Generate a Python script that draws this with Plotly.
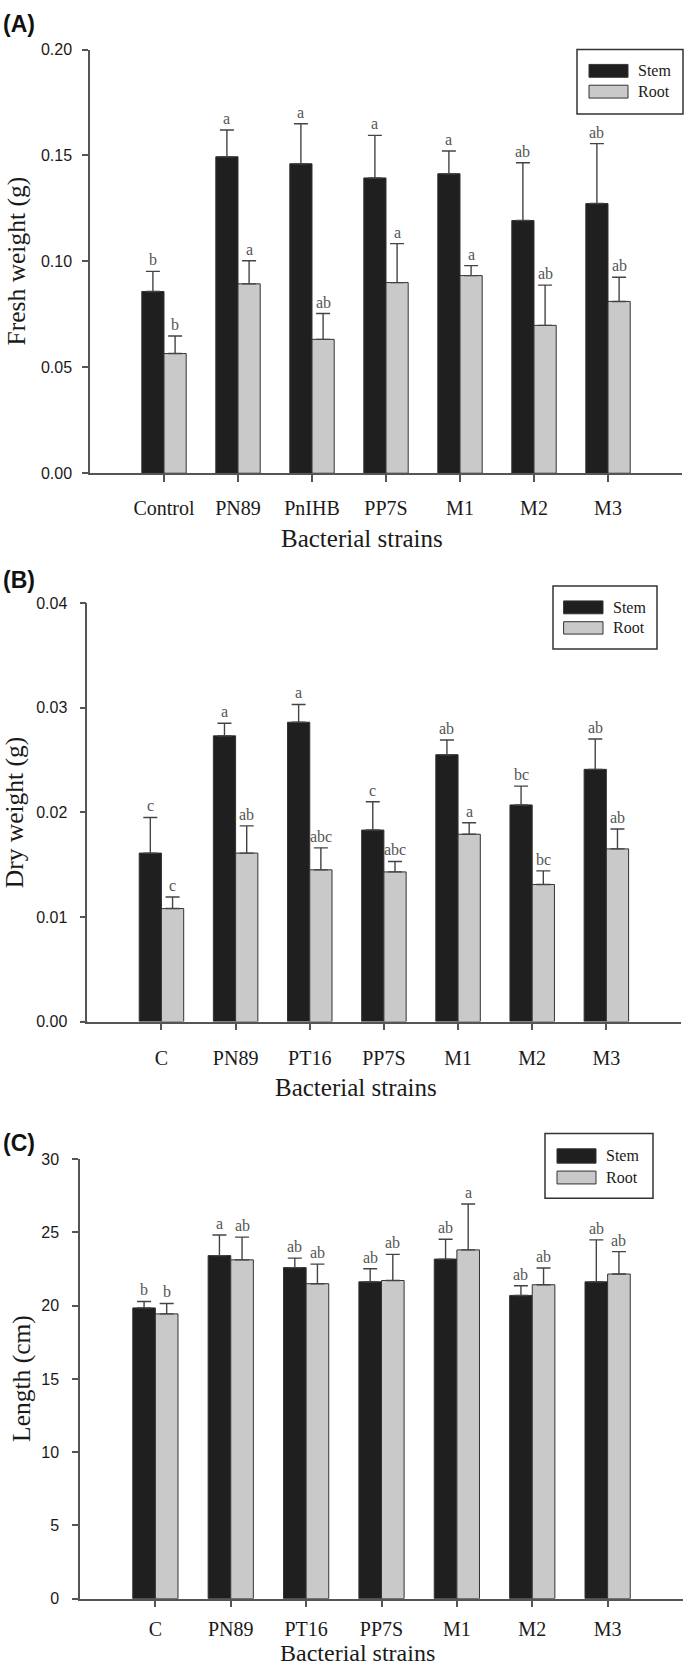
import plotly.graph_objects as go

W, H = 685, 1675

# ---------------- data ----------------
cats_A = ["Control", "PN89", "PnIHB", "PP7S", "M1", "M2", "M3"]
stem_A = [0.0858, 0.1494, 0.1461, 0.1394, 0.1414, 0.1193, 0.1273]
stem_A_err = [0.0095, 0.0126, 0.0189, 0.0201, 0.0107, 0.0273, 0.0283]
root_A = [0.0565, 0.0894, 0.0632, 0.0900, 0.0933, 0.0698, 0.0811]
root_A_err = [0.0083, 0.0109, 0.0122, 0.0184, 0.0047, 0.0190, 0.0114]
stem_A_lbl = ["b", "a", "a", "a", "a", "ab", "ab"]
root_A_lbl = ["b", "a", "ab", "a", "a", "ab", "ab"]
yticks_A = [0.00, 0.05, 0.10, 0.15, 0.20]

cats_B = ["C", "PN89", "PT16", "PP7S", "M1", "M2", "M3"]
stem_B = [0.0161, 0.0273, 0.0286, 0.0183, 0.0255, 0.0207, 0.0241]
stem_B_err = [0.0034, 0.0012, 0.0017, 0.0027, 0.0014, 0.0018, 0.0029]
root_B = [0.0108, 0.0161, 0.0145, 0.0143, 0.0179, 0.0131, 0.0165]
root_B_err = [0.0011, 0.0026, 0.0021, 0.0010, 0.0011, 0.0013, 0.0019]
stem_B_lbl = ["c", "a", "a", "c", "ab", "bc", "ab"]
root_B_lbl = ["c", "ab", "abc", "abc", "a", "bc", "ab"]
yticks_B = [0.00, 0.01, 0.02, 0.03, 0.04]

cats_C = ["C", "PN89", "PT16", "PP7S", "M1", "M2", "M3"]
stem_C = [19.85, 23.42, 22.60, 21.63, 23.18, 20.70, 21.63]
stem_C_err = [0.44, 1.41, 0.65, 0.89, 1.36, 0.66, 2.86]
root_C = [19.44, 23.13, 21.50, 21.72, 23.81, 21.43, 22.16]
root_C_err = [0.71, 1.55, 1.34, 1.78, 3.13, 1.14, 1.53]
stem_C_lbl = ["b", "a", "ab", "ab", "ab", "ab", "ab"]
root_C_lbl = ["b", "ab", "ab", "ab", "a", "ab", "ab"]
yticks_C = [0, 5, 10, 15, 20, 25, 30]

# ---------------- styling ----------------
STEM_FILL = "#1f1f1f"
ROOT_FILL = "#c9c9c9"
OUTLINE = "#333333"
AXIS = "#555555"
SERIF = "Liberation Serif, Times New Roman, serif"
SANS = "Liberation Sans, Arial, sans-serif"


def px(x):
    return x / W


def py(y):
    return 1 - y / H


panels = [
    dict(cats=cats_A, stem=stem_A, se=stem_A_err, root=root_A, re=root_A_err,
         sl=stem_A_lbl, rl=root_A_lbl, ticks=yticks_A, fmt=".2f", yr=[0, 0.20],
         xdom=(90, 682), ydom=(42, 470), ytitle="Fresh weight (g)", ytx=16,
         xtitle_y=536, xtitle_x=362, xanch="middle", xtsize=25, tag="(A)", tag_y=16,
         xstand=9, ystand=7,
         leg=dict(box=(577, 42, 683, 107), sw=(589, 628), s1=(57, 70), s2=(78, 91), tx=636)),
    dict(cats=cats_B, stem=stem_B, se=stem_B_err, root=root_B, re=root_B_err,
         sl=stem_B_lbl, rl=root_B_lbl, ticks=yticks_B, fmt=".2f", yr=[0, 0.04],
         xdom=(87.3, 680.5), ydom=(601, 1024), ytitle="Dry weight (g)", ytx=14,
         xtitle_y=1091, xtitle_x=356, xanch="middle", xtsize=25, tag="(B)", tag_y=578,
         xstand=11, ystand=9,
         leg=dict(box=(553, 584, 657, 647.5), sw=(563.6, 603), s1=(599, 612), s2=(620, 632.5), tx=611)),
    dict(cats=cats_C, stem=stem_C, se=stem_C_err, root=root_C, re=root_C_err,
         sl=stem_C_lbl, rl=root_C_lbl, ticks=yticks_C, fmt="d", yr=[0, 30],
         xdom=(80, 683), ydom=(1163, 1607), ytitle="Length (cm)", ytx=22,
         xtitle_y=1675, xtitle_x=357, xanch="bottom", xtsize=24, tag="(C)", tag_y=1147,
         xstand=5, ystand=10,
         leg=dict(box=(545, 1137, 653, 1202.5), sw=(557, 596), s1=(1152.5, 1167), s2=(1175, 1188), tx=604)),
]

fig = go.Figure()
layout = dict(
    width=W, height=H, margin=dict(l=0, r=0, t=0, b=0),
    paper_bgcolor="white", plot_bgcolor="white",
    barmode="group", bargap=0.4, bargroupgap=0.0,
    showlegend=False,
)
annotations = []
shapes = []

for k, p in enumerate(panels):
    sfx = "" if k == 0 else str(k + 1)
    xa, ya = "x" + sfx, "y" + sfx
    err_style = dict(type="data", symmetric=False, color="#444444", thickness=1.4, width=7)
    fig.add_trace(go.Bar(
        x=p["cats"], y=p["stem"], name="Stem", xaxis=xa, yaxis=ya,
        marker=dict(color=STEM_FILL, line=dict(color=OUTLINE, width=1)),
        error_y=dict(array=p["se"], **err_style),
    ))
    fig.add_trace(go.Bar(
        x=p["cats"], y=p["root"], name="Root", xaxis=xa, yaxis=ya,
        marker=dict(color=ROOT_FILL, line=dict(color=OUTLINE, width=1)),
        error_y=dict(array=p["re"], **err_style),
    ))
    x0, x1 = p["xdom"]
    y0, y1 = p["ydom"]
    layout["xaxis" + sfx] = dict(
        domain=[px(x0), px(x1)], anchor=ya, type="category",
        range=[-1, 7], showline=True, linecolor=AXIS, linewidth=1.5,
        ticks="outside", ticklen=7, tickcolor=AXIS, tickwidth=1.5,
        showgrid=False, zeroline=False, fixedrange=True,
        tickfont=dict(family=SERIF, size=20, color="#1a1a1a"),
        ticklabelstandoff=p["xstand"],
    )
    tickvals = p["ticks"]
    ticktext = [format(t, p["fmt"]) if p["fmt"] != "d" else str(int(t)) for t in tickvals]
    layout["yaxis" + sfx] = dict(
        domain=[py(y1), py(y0)], anchor=xa, range=p["yr"],
        showline=True, linecolor=AXIS, linewidth=1.5,
        ticks="outside", ticklen=6, tickcolor=AXIS, tickwidth=1.5,
        tickvals=tickvals, ticktext=ticktext,
        showgrid=False, zeroline=False, fixedrange=True,
        tickfont=dict(family=SANS, size=16, color="#1a1a1a"),
        ticklabelstandoff=p["ystand"],
    )
    # small extension of the x axis line to the left of the y axis (as in the original)
    shapes.append(dict(type="line", xref="paper", yref="paper",
                       x0=px(x0 - 6), x1=px(x0), y0=py(y1), y1=py(y1),
                       line=dict(color=AXIS, width=1.5)))
    # significance letters
    for i in range(len(p["cats"])):
        for off, val, err, lbl in ((-0.15, p["stem"][i], p["se"][i], p["sl"][i]),
                                   (0.15, p["root"][i], p["re"][i], p["rl"][i])):
            annotations.append(dict(
                x=i + off, y=val + err, xref=xa, yref=ya, text=lbl,
                showarrow=False, yanchor="bottom", xanchor="center", yshift=1,
                font=dict(family=SERIF, size=16, color="#555555"),
            ))
    # axis titles
    annotations.append(dict(
        x=px(p["ytx"]), y=py((y0 + y1) / 2), xref="paper", yref="paper",
        text=p["ytitle"], textangle=-90, showarrow=False,
        xanchor="center", yanchor="middle",
        font=dict(family=SERIF, size=25.5, color="#1a1a1a"),
    ))
    annotations.append(dict(
        x=px(p["xtitle_x"]), y=py(p["xtitle_y"]), xref="paper", yref="paper",
        text="Bacterial strains", showarrow=False,
        xanchor="center", yanchor=p["xanch"], borderpad=0, borderwidth=0,
        font=dict(family=SERIF, size=p["xtsize"], color="#1a1a1a"),
    ))
    annotations.append(dict(
        x=px(19), y=py(p["tag_y"]), xref="paper", yref="paper",
        text="<b>" + p["tag"] + "</b>", showarrow=False,
        xanchor="center", yanchor="middle",
        font=dict(family=SANS, size=23, color="#111111"),
    ))
    # legend drawn as a framed key
    lg = p["leg"]
    bx0, by0, bx1, by1 = lg["box"]
    shapes.append(dict(type="rect", xref="paper", yref="paper",
                       x0=px(bx0), x1=px(bx1), y0=py(by1), y1=py(by0),
                       line=dict(color="#333333", width=1.5), fillcolor="white"))
    for (sy0, sy1), fill, name in ((lg["s1"], STEM_FILL, "Stem"), (lg["s2"], ROOT_FILL, "Root")):
        shapes.append(dict(type="rect", xref="paper", yref="paper",
                           x0=px(lg["sw"][0]), x1=px(lg["sw"][1]), y0=py(sy1), y1=py(sy0),
                           line=dict(color=OUTLINE, width=1), fillcolor=fill))
        annotations.append(dict(
            x=px(lg["tx"]), y=py((sy0 + sy1) / 2), xref="paper", yref="paper",
            text=name, showarrow=False, xanchor="left", yanchor="middle",
            font=dict(family=SERIF, size=16, color="#1a1a1a"),
        ))

layout["annotations"] = annotations
layout["shapes"] = shapes
fig.update_layout(**layout)
fig.write_html(
    "out.html",
    config={"displayModeBar": False},
    post_script="document.body.style.margin='0';document.documentElement.style.overflow='hidden';",
)
